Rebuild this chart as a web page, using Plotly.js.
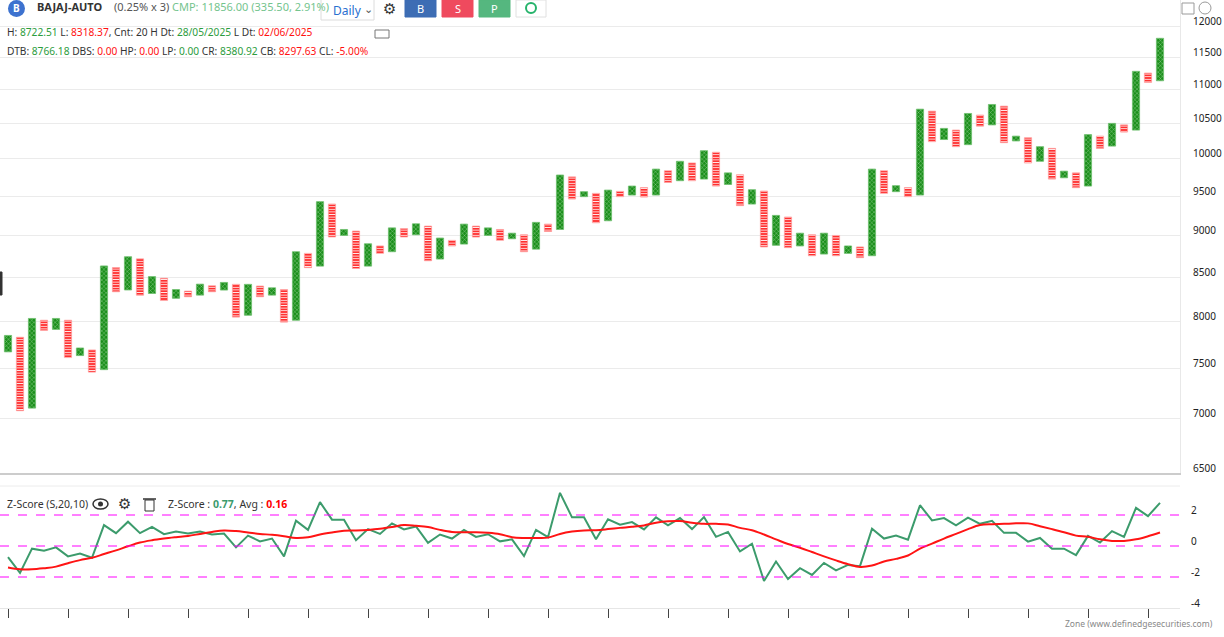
<!DOCTYPE html>
<html>
<head>
<meta charset="utf-8">
<script src="https://cdn.plot.ly/plotly-3.0.1.min.js"></script>
<style>
  html, body { margin: 0; padding: 0; background: #fff; }
  #graph { width: 1224px; height: 637px; }
</style>
</head>
<body>
<div id="graph"></div>
<script>
// point & figure columns, 0.25% x 3
const colKind = ['X','O','X','O','X','O','X','O','X','O','X','O','X','O','X','O','X','O','X','O',
  'X','O','X','O','X','O','X','O','X','O','X','O','X','O','X','O','X','O','X','O',
  'X','O','X','O','X','O','X','O','X','O','X','O','X','O','X','O','X','O','X','O',
  'X','O','X','O','X','O','X','O','X','O','X','O','X','O','X','O','X','O','X','O',
  'X','O','X','O','X','O','X','O','X','O','X','O','X','O','X','O','X'];

const colLow = [7675, 7080, 7105, 7905, 7915, 7615, 7636, 7465, 7490, 8335,
  8355, 8295, 8315, 8235, 8260, 8278, 8296, 8335, 8354, 8050,
  8070, 8278, 8296, 7995, 8015, 8615, 8633, 8985, 9004, 8605,
  8633, 8785, 8805, 8985, 9012, 8697, 8717, 8875, 8898, 8984,
  9004, 8943, 8963, 8805, 8836, 9053, 9078, 9465, 9496, 9162,
  9187, 9496, 9517, 9491, 9517, 9683, 9706, 9706, 9728, 9635,
  9656, 9380, 9400, 8863, 8883, 8855, 8875, 8757, 8777, 8757,
  8785, 8734, 8757, 9539, 9561, 9496, 9517, 10240, 10270, 10170,
  10198, 10460, 10478, 10226, 10250, 9945, 9968, 9728, 9745, 9614,
  9635, 10146, 10178, 10376, 10404, 11108, 11132];

const colHigh = [7850, 7830, 8035, 8015, 8035, 8015, 7716, 7695, 8635, 8615,
  8745, 8720, 8510, 8490, 8360, 8342, 8422, 8403, 8442, 8420,
  8420, 8400, 8380, 8360, 8805, 8785, 9431, 9400, 9078, 9058,
  8902, 8875, 9098, 9088, 9149, 9120, 8972, 8943, 9145, 9120,
  9098, 9078, 9032, 9012, 9167, 9145, 9782, 9757, 9561, 9539,
  9582, 9565, 9635, 9614, 9862, 9840, 9968, 9945, 10114, 10092,
  9811, 9785, 9587, 9569, 9255, 9234, 9032, 9012, 9032, 9004,
  8875, 8863, 9862, 9840, 9640, 9614, 10707, 10677, 10428, 10404,
  10644, 10620, 10776, 10751, 10318, 10295, 10170, 10146, 9834, 9811,
  10340, 10318, 10500, 10478, 11277, 11250, 11800];

// Z-Score (S,20,10) and its average
const zScore = [-0.72, -1.74, -0.17, -0.30, -0.09, -0.67, -0.48, -0.76, 1.35, 0.83,
  1.57, 0.83, 1.24, 0.76, 0.93, 0.80, 0.93, 0.74, 0.80, -0.09,
  0.67, 0.30, 0.48, -0.67, 1.63, 1.04, 2.83, 1.70, 1.70, 0.37,
  1.09, 0.78, 1.46, 1.07, 1.26, 0.20, 0.74, 0.48, 1.04, 0.59,
  0.76, 0.30, 0.43, -0.65, 1.04, 0.57, 3.43, 1.85, 1.85, 0.43,
  1.72, 1.37, 1.54, 1.07, 1.85, 1.33, 1.80, 1.09, 1.87, 0.59,
  0.91, -0.35, 0.15, -2.26, -1.00, -2.13, -1.43, -1.87, -1.09, -1.57,
  -1.22, -1.30, 1.11, 0.48, 0.67, 0.41, 2.63, 1.65, 1.80, 1.33,
  1.83, 1.43, 1.63, 0.85, 0.85, 0.28, 0.52, -0.17, -0.17, -0.59,
  0.65, 0.22, 0.96, 0.59, 2.46, 1.93, 2.78];

const zAvg = [-1.39, -1.50, -1.50, -1.43, -1.33, -1.11, -0.91, -0.76, -0.52, -0.28,
  -0.02, 0.22, 0.37, 0.48, 0.57, 0.65, 0.78, 0.91, 1.00, 0.96,
  0.87, 0.78, 0.72, 0.63, 0.52, 0.57, 0.74, 0.87, 0.98, 1.00,
  1.04, 1.11, 1.22, 1.35, 1.30, 1.22, 1.04, 0.91, 0.89, 0.89,
  0.85, 0.76, 0.57, 0.52, 0.52, 0.54, 0.78, 0.93, 1.00, 1.02,
  1.09, 1.17, 1.24, 1.33, 1.50, 1.59, 1.61, 1.50, 1.43, 1.43,
  1.39, 1.17, 1.02, 0.74, 0.43, 0.13, -0.11, -0.39, -0.67, -0.93,
  -1.17, -1.35, -1.26, -1.00, -0.83, -0.61, -0.17, 0.15, 0.48, 0.78,
  1.09, 1.35, 1.41, 1.43, 1.46, 1.46, 1.28, 1.09, 0.89, 0.67,
  0.59, 0.43, 0.33, 0.33, 0.43, 0.63, 0.87];

const priceTicks = [6500, 7000, 7500, 8000, 8500, 9000, 9500, 10000, 10500, 11000, 11500, 12000];
const zTicks = [-4, -2, 0, 2];
const zLevels = [2, 0, -2];

// pixel helpers for the chrome (plot area is 1180 x 608)
const W = 1180, H = 608;
const px = x => x / W;
const py = y => (H - y) / H;

const cols = colKind.map((k, i) => i);
const pick = (arr, kind) => arr.filter((v, i) => colKind[i] === kind);
const spans = kind => cols.filter(i => colKind[i] === kind).map(i => colHigh[i] - colLow[i]);

const traceX = {
  type: 'bar', x: pick(cols, 'X'), base: pick(colLow, 'X'), y: spans('X'),
  width: 0.6, xaxis: 'x', yaxis: 'y',
  marker: {
    color: '#1b8f1b',
    line: { width: 0.8, color: '#6cbf6c' },
    pattern: { shape: 'x', fgcolor: '#c4eac4', bgcolor: '#1b8f1b', size: 3, solidity: 0.2 }
  }
};

const traceO = {
  type: 'bar', x: pick(cols, 'O'), base: pick(colLow, 'O'), y: spans('O'),
  width: 0.6, xaxis: 'x', yaxis: 'y',
  marker: {
    color: '#ff3030',
    line: { width: 0.8, color: '#ff9a9a' },
    pattern: { shape: '-', fgcolor: '#ffffff', bgcolor: '#ff3030', size: 2.6, solidity: 0.3 }
  }
};

const traceZ = {
  type: 'scatter', mode: 'lines', x: cols, y: zScore, xaxis: 'x2', yaxis: 'y2',
  line: { color: '#3c9b6c', width: 2 }
};

const traceAvg = {
  type: 'scatter', mode: 'lines', x: cols, y: zAvg, xaxis: 'x2', yaxis: 'y2',
  line: { color: '#ff1414', width: 2, shape: 'spline' }
};

const green = '#2c9c3c', red = '#ff1010';
const g = t => `<span style="color:${green}">${t}</span>`;
const r = t => `<span style="color:${red}">${t}</span>`;

function label(x, y, text, opts) {
  return Object.assign({
    xref: 'paper', yref: 'paper', x: px(x), y: py(y), text: text,
    showarrow: false, xanchor: 'left', yanchor: 'middle',
    font: { size: 10.2, color: '#333' }
  }, opts || {});
}

function box(x0, y0, x1, y1, fill, line) {
  return {
    type: 'rect', xref: 'paper', yref: 'paper',
    x0: px(x0), x1: px(x1), y0: py(y0), y1: py(y1),
    fillcolor: fill, line: { color: line || fill, width: 1 }, layer: 'above'
  };
}

const shapes = [
  // z-score levels
  ...zLevels.map(v => ({
    type: 'line', xref: 'paper', yref: 'y2', x0: 0, x1: 1, y0: v, y1: v,
    line: { color: '#ff00ff', width: 1, dash: 'dash' }
  })),
  // panel separator
  { type: 'line', xref: 'paper', yref: 'paper', x0: 0, x1: 1, y0: py(486), y1: py(486),
    line: { color: '#ececec', width: 1 } },
  // logo circle
  { type: 'circle', xref: 'paper', yref: 'paper', x0: px(8), x1: px(25), y0: py(0), y1: py(17),
    fillcolor: '#3d72cf', line: { width: 0 } },
  // dropdown
  box(321, -1, 374, 20, '#ffffff', '#dcdcdc'),
  // buttons
  box(405, 0, 436, 17, '#3d6db4', '#3d6db4'),
  box(442, 0, 473, 17, '#ef4a5e', '#ef4a5e'),
  box(479, 0, 510, 17, '#55b77f', '#55b77f'),
  box(516, 0, 546, 17, '#ffffff', '#e0e0e0'),
  { type: 'circle', xref: 'paper', yref: 'paper', x0: px(526), x1: px(536), y0: py(3), y1: py(13),
    line: { color: '#26b36b', width: 2 } },
  { type: 'path', xref: 'paper', yref: 'paper', layer: 'above',
    path: `M ${px(531)},${py(3)} A 1,1 0 0 1 ${px(536)},${py(8)}`,
    line: { color: '#ff4b4b', width: 2 } },
  // comment icon
  box(375, 30, 389, 38, '#ffffff', '#777'),
  // top-right icons
  box(1182, 3, 1194, 14, '#ffffff', '#9a9a9a'),
  { type: 'circle', xref: 'paper', yref: 'paper', x0: px(1199), x1: px(1211), y0: py(2), y1: py(14),
    line: { color: '#9a9a9a', width: 1 } },
  // left edge marker
  box(0, 272, 2, 295, '#333', '#333'),
  // eye icon
  { type: 'circle', xref: 'paper', yref: 'paper', x0: px(93), x1: px(108), y0: py(499), y1: py(509),
    line: { color: '#333', width: 1.5 } },
  { type: 'circle', xref: 'paper', yref: 'paper', x0: px(98), x1: px(103), y0: py(501.5), y1: py(506.5),
    fillcolor: '#333', line: { width: 0 } },
  // trash icon
  box(145, 500, 154, 511, '#ffffff', '#333'),
  { type: 'line', xref: 'paper', yref: 'paper', x0: px(143), x1: px(156), y0: py(499), y1: py(499),
    line: { color: '#333', width: 1.5 } }
];

const annotations = [
  label(16.5, 8.5, '<b>B</b>', { xanchor: 'center', font: { size: 10, color: '#fff' } }),
  label(35, 7, '<b>BAJAJ-AUTO</b>', { font: { size: 11, color: '#333' } }),
  label(112, 7, '(0.25% x 3)', { font: { size: 11, color: '#555' } }),
  label(170, 7, 'CMP: 11856.00 (335.50, 2.91%)', { font: { size: 11, color: '#74c48e' } }),
  label(331, 10, 'Daily', { font: { size: 12, color: '#2a6fd0' } }),
  label(362, 9, '⌄', { font: { size: 11, color: '#555' } }),
  label(389, 9, '⚙', { xanchor: 'center', font: { size: 15, color: '#333', family: 'DejaVu Sans' } }),
  label(420.5, 8.5, 'B', { xanchor: 'center', font: { size: 11, color: '#fff' } }),
  label(457.5, 8.5, 'S', { xanchor: 'center', font: { size: 11, color: '#fff' } }),
  label(494.5, 8.5, 'P', { xanchor: 'center', font: { size: 11, color: '#fff' } }),
  label(5, 32, `H: ${g('8722.51')} L: ${r('8318.37')}, Cnt: 20 H Dt: ${g('28/05/2025')} L Dt: ${r('02/06/2025')}`),
  label(5, 51, `DTB: ${g('8766.18')} DBS: ${r('0.00')} HP: ${r('0.00')} LP: ${g('0.00')} CR: ${g('8380.92')} CB: ${r('8297.63')} CL: ${r('-5.00%')}`),
  label(5, 504, 'Z-Score (S,20,10)', { font: { size: 10.5, color: '#333' } }),
  label(124, 504, '⚙', { xanchor: 'center', font: { size: 15, color: '#333', family: 'DejaVu Sans' } }),
  label(166, 504, 'Z-Score : <b><span style="color:#3c9b6c">0.77</span></b>, Avg : <b><span style="color:#ff0000">0.16</span></b>',
    { font: { size: 10.5, color: '#333' } }),
  label(1215, 623, 'Zone (www.definedgesecurities.com)', { xanchor: 'right', font: { size: 8.5, color: '#888' } })
];

const layout = {
  width: 1224, height: 637,
  margin: { l: 0, r: 44, t: 0, b: 29 },
  paper_bgcolor: '#ffffff', plot_bgcolor: '#ffffff',
  font: { family: 'Noto Sans, Open Sans, sans-serif', size: 11, color: '#333' },
  showlegend: false, hovermode: false, barmode: 'overlay',
  xaxis: {
    domain: [0, 1], anchor: 'y', range: [-0.667, 97.667],
    showgrid: false, zeroline: false, showticklabels: false, ticks: '',
    showline: true, linecolor: '#cccccc', linewidth: 2
  },
  yaxis: {
    domain: [135 / H, 1], anchor: 'x', type: 'log', side: 'right',
    range: [Math.log10(6500), Math.log10(6500) + 473 / 1678.6],
    tickvals: priceTicks, ticktext: priceTicks.map(String),
    ticklabelstandoff: 10, ticklabelshift: -5,
    gridcolor: '#ebebeb', gridwidth: 1, zeroline: false, ticks: '',
    showline: true, linecolor: '#e8e8e8', linewidth: 1,
    tickfont: { size: 10, color: '#222' }
  },
  xaxis2: {
    domain: [0, 1], anchor: 'y2', range: [-0.667, 97.667],
    showgrid: false, zeroline: false, showticklabels: false,
    tickmode: 'linear', tick0: 0, dtick: 5,
    ticks: 'outside', ticklen: 9, tickcolor: '#444', tickwidth: 1,
    showline: true, linecolor: '#e6e6e6', linewidth: 1
  },
  yaxis2: {
    domain: [0, 124 / H], anchor: 'x2', side: 'right', range: [-4, 4],
    tickvals: zTicks, ticktext: zTicks.map(String),
    ticklabelstandoff: 10, ticklabelshift: -5,
    showgrid: false, zeroline: false, ticks: '',
    tickfont: { size: 10, color: '#222' }
  },
  shapes: shapes,
  annotations: annotations
};

Plotly.newPlot('graph', [traceX, traceO, traceZ, traceAvg], layout, { displayModeBar: false, staticPlot: true });
</script>
</body>
</html>
